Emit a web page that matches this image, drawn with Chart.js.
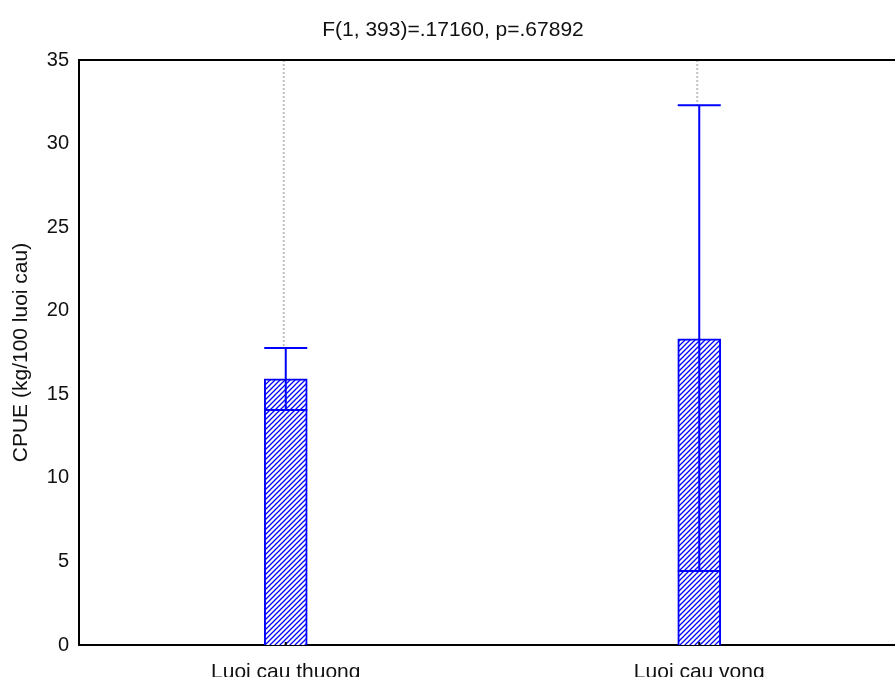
<!DOCTYPE html>
<html>
<head>
<meta charset="utf-8">
<script src="https://cdn.jsdelivr.net/npm/chart.js@4.4.1/dist/chart.umd.min.js"></script>
<style>
  html, body { margin: 0; padding: 0; background: #fff; overflow: hidden; }
  #wrap { width: 906px; height: 677px; }
</style>
</head>
<body>
<div id="wrap"><canvas id="chart" width="906" height="677"></canvas></div>
<script>
// -- DATA -- //
const categories = ["Luoi cau thuong", "Luoi cau vong"];
const means = [15.92, 18.32];
const ci_low = [14.06, 4.43];
const ci_high = [17.77, 32.3];
const y_ticks = [0, 5, 10, 15, 20, 25, 30, 35];
const title_text = "F(1, 393)=.17160, p=.67892";
const y_title = "CPUE (kg/100 luoi cau)";

const blue = "#0000ff";
const font_family = "'Liberation Sans', Arial, sans-serif";

// hatch pattern (blue diagonal lines on white)
function MakeHatch() {
    const size = 5;
    const c = document.createElement("canvas");
    c.width = size; c.height = size;
    const g = c.getContext("2d");
    g.fillStyle = "#ffffff";
    g.fillRect(0, 0, size, size);
    g.strokeStyle = blue;
    g.lineWidth = 1.3;
    g.beginPath();
    g.moveTo(-1, size + 1); g.lineTo(size + 1, -1);
    g.moveTo(-1, 1); g.lineTo(1, -1);
    g.moveTo(size - 1, size + 1); g.lineTo(size + 1, size - 1);
    g.stroke();
    return g.createPattern(c, "repeat");
}

// error bars, cap lines, dotted line to top of plot
const errorBars = {
    id: "errorBars",
    afterDatasetsDraw(chart) {
        const ctx = chart.ctx;
        const y = chart.scales.y;
        const area = chart.chartArea;
        const meta = chart.getDatasetMeta(0);
        ctx.save();
        meta.data.forEach((bar, i) => {
            const x = bar.x;
            const half = bar.width / 2;
            const yl = y.getPixelForValue(ci_low[i]);
            const yh = y.getPixelForValue(ci_high[i]);

            // gray dotted
            ctx.strokeStyle = "#c0c0c0";
            ctx.lineWidth = 2;
            ctx.setLineDash([2, 2]);
            ctx.beginPath();
            ctx.moveTo(x - 2, area.top);
            ctx.lineTo(x - 2, yh);
            ctx.stroke();
            ctx.setLineDash([]);

            ctx.strokeStyle = blue;
            ctx.lineWidth = 2;
            ctx.beginPath();
            // lower CI line across bar
            ctx.moveTo(x - half, yl);
            ctx.lineTo(x + half, yl);
            // vertical
            ctx.moveTo(x, yl);
            ctx.lineTo(x, yh);
            // cap
            ctx.moveTo(x - half, yh);
            ctx.lineTo(x + half, yh);
            ctx.stroke();

            // small inward tick on x axis
            ctx.strokeStyle = "#000";
            ctx.beginPath();
            ctx.moveTo(x, area.bottom);
            ctx.lineTo(x, area.bottom - 3);
            ctx.stroke();
        });
        // top border
        ctx.strokeStyle = "#000";
        ctx.lineWidth = 2;
        ctx.beginPath();
        ctx.moveTo(area.left - 1, area.top);
        ctx.lineTo(area.right, area.top);
        ctx.stroke();
        ctx.restore();
    }
};

const chart_ctx = document.getElementById("chart").getContext("2d");
let chart = new Chart(chart_ctx, {
    type: "bar",
    data: {
        labels: categories,
        datasets: [{
            data: means,
            backgroundColor: MakeHatch(),
            borderColor: blue,
            borderWidth: 2,
            barThickness: 43
        }]
    },
    options: {
        responsive: false,
        animation: false,
        layout: { padding: 0 },
        plugins: {
            legend: { display: false },
            tooltip: { enabled: false },
            title: {
                display: true,
                text: title_text,
                color: "#111",
                font: { family: font_family, size: 21, weight: "normal" },
                padding: { top: 18, bottom: 16.8 }
            }
        },
        scales: {
            x: {
                grid: { display: false, drawTicks: false },
                border: { display: true, color: "#000", width: 2 },
                ticks: {
                    color: "#111",
                    font: { family: font_family, size: 21 },
                    padding: 15,
                    maxRotation: 0
                },
                afterFit(scale) { scale.height = 32; }
            },
            y: {
                min: 0,
                max: 35,
                afterBuildTicks(scale) { scale.ticks = y_ticks.map(v => ({ value: v })); },
                grid: { display: false, drawTicks: false },
                border: { display: true, color: "#000", width: 2 },
                ticks: {
                    color: "#111",
                    font: { family: font_family, size: 20 },
                    padding: 10
                },
                title: {
                    display: true,
                    text: y_title,
                    color: "#111",
                    font: { family: font_family, size: 21 },
                    padding: { top: 9, bottom: 0 }
                },
                afterFit(scale) { scale.width = 79; }
            }
        }
    },
    plugins: [errorBars]
});
</script>
</body>
</html>
